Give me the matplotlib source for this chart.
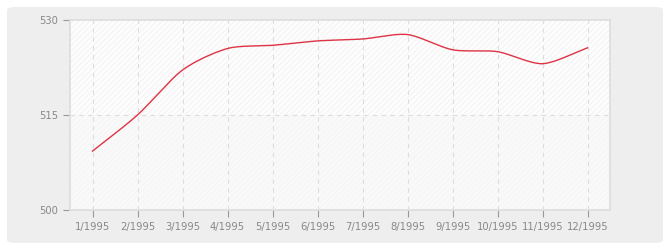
import numpy as np
import matplotlib
matplotlib.use("Agg")
import matplotlib.pyplot as plt
from matplotlib.patches import FancyBboxPatch

months = ['1/1995', '2/1995', '3/1995', '4/1995', '5/1995', '6/1995',
          '7/1995', '8/1995', '9/1995', '10/1995', '11/1995', '12/1995']
values = [509.3, 515.0, 522.1, 525.5, 526.0, 526.7,
          527.0, 527.7, 525.3, 525.0, 523.1, 525.6]
yticks = [500, 515, 530]


def smooth(x, y, n=20, tension=0.4):
    # cardinal spline through the points
    x = np.asarray(x, float)
    y = np.asarray(y, float)
    px = np.concatenate([[2 * x[0] - x[1]], x, [2 * x[-1] - x[-2]]])
    py = np.concatenate([[2 * y[0] - y[1]], y, [2 * y[-1] - y[-2]]])
    xs, ys = [], []
    t = np.linspace(0, 1, n, endpoint=False)
    h00 = 2 * t ** 3 - 3 * t ** 2 + 1
    h10 = t ** 3 - 2 * t ** 2 + t
    h01 = -2 * t ** 3 + 3 * t ** 2
    h11 = t ** 3 - t ** 2
    for i in range(1, len(px) - 2):
        for p, out in ((px, xs), (py, ys)):
            m1 = tension * (p[i + 1] - p[i - 1])
            m2 = tension * (p[i + 2] - p[i])
            out.extend(h00 * p[i] + h10 * m1 + h01 * p[i + 1] + h11 * m2)
    xs.append(x[-1])
    ys.append(y[-1])
    return np.array(xs), np.array(ys)


fig = plt.figure(figsize=(6.7, 2.5), dpi=100)
fig.patch.set_facecolor('white')
bg = FancyBboxPatch((7 / 670, 7 / 250), 656 / 670, 236 / 250,
                    boxstyle="round,pad=0,rounding_size=0.012",
                    transform=fig.transFigure, facecolor='#eeeeee',
                    edgecolor='none', zorder=-10)
fig.add_artist(bg)

ax = fig.add_axes([70 / 670, 40 / 250, 540 / 670, 190 / 250])
ax.set_zorder(1)
ax.set_facecolor('#fcfcfc')

x = np.arange(len(months))
ax.set_xlim(-0.5, len(months) - 0.5)
ax.set_ylim(500, 530)

plt.rcParams['hatch.linewidth'] = 0.5
ax.axhspan(515, 530, facecolor='#fdfdfd', edgecolor='#efefef', hatch='//////', lw=0, zorder=0)
ax.axhspan(500, 515, facecolor='#f9f9f9', edgecolor='#f4f4f4', hatch='//////', lw=0, zorder=0)

for xi in x:
    ax.axvline(xi, color='#dddddd', lw=0.8, ls=(0, (4, 4)), zorder=1)
ax.axhline(515, color='#dddddd', lw=0.8, ls=(0, (4, 4)), zorder=1)

sx, sy = smooth(x, values)
ax.plot(sx, sy, color='#dd3344', lw=1.0, zorder=3)

ax.set_xticks(x)
ax.set_xticklabels(months)
ax.set_yticks(yticks)
ax.tick_params(colors='#999999', labelcolor='#888888', labelsize=7.2, length=5, width=0.8)
for s in ax.spines.values():
    s.set_color('#dddddd')
    s.set_linewidth(1.2)

plt.savefig('out.png', dpi=100)
